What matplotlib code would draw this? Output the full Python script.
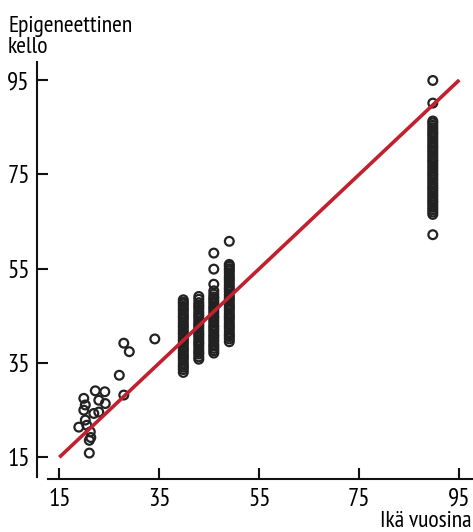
import matplotlib
matplotlib.use("Agg")
import matplotlib.pyplot as plt

plt.rcParams["font.family"] = ["PT Sans Narrow", "DejaVu Sans"]

# nuoret (hajanaiset pisteet)
young_age = [22.2, 24.1, 19.9, 22.9, 24.2, 20.2, 19.9, 21.9, 22.9, 20.2, 18.9,
             20.5, 21.2, 21.0, 21.3, 21.0, 27.9, 27.0, 27.9, 29.0, 34.1]
young_clock = [29.1, 28.9, 27.5, 27.1, 26.4, 26.1, 25.0, 24.3, 24.6, 22.9, 21.4,
               21.8, 20.4, 18.6, 19.2, 15.9, 28.2, 32.4, 39.2, 37.4, 40.1]

# keski-ikäiset, neljä ikäryhmää
age_40 = 39.8
clock_40 = [33.0, 33.6, 34.1, 34.5, 35.0, 35.6, 36.1, 36.5, 37.0, 37.6, 38.0,
            38.5, 39.1, 39.6, 40.0, 40.5, 41.1, 41.5, 42.0, 42.6, 43.0, 43.5,
            44.1, 44.6, 45.0, 45.5, 46.1, 46.5, 47.0, 47.5, 47.9, 48.4]
age_43 = 42.9
clock_43 = [35.8, 36.3, 36.9, 37.3, 37.8, 38.4, 38.9, 39.3, 39.8, 40.4, 40.9,
            41.3, 41.8, 42.4, 42.9, 43.3, 43.8, 44.4, 44.9, 45.3, 45.8, 46.4,
            46.9, 47.3, 47.8, 48.5, 49.1]
age_46 = 45.9
clock_46 = [37.1, 37.6, 38.1, 38.6, 39.0, 39.6, 40.1, 40.6, 41.0, 41.6, 42.1,
            42.6, 43.0, 43.6, 44.1, 44.6, 45.0, 45.6, 46.1, 46.6, 47.0, 47.6,
            48.1, 48.6, 49.0, 49.6, 50.3, 51.7, 54.9, 58.3]
age_49 = 49.0
clock_49 = [39.5, 40.1, 40.6, 41.0, 41.5, 42.1, 42.6, 43.0, 43.5, 44.1, 44.6,
            45.0, 45.5, 46.1, 46.6, 47.0, 47.5, 48.1, 48.6, 49.0, 49.5, 50.1,
            50.6, 51.0, 51.5, 52.1, 52.6, 53.0, 53.5, 54.1, 54.6, 55.0, 55.5,
            55.9, 60.8]

# vanhimmat
age_90 = 89.7
clock_90 = [62.2, 66.5, 67.0, 67.5, 68.0, 68.5, 69.0, 69.4, 69.9, 70.4, 70.9,
            71.4, 71.9, 72.3, 72.8, 73.3, 73.8, 74.3, 74.8, 75.2, 75.7, 76.2,
            76.7, 77.2, 77.7, 78.1, 78.6, 79.1, 79.6, 80.1, 80.6, 81.0, 81.5,
            82.0, 82.5, 83.0, 83.5, 83.9, 84.4, 84.9, 85.4, 85.9, 86.3, 90.1,
            94.9]

line_x = [15, 95]
line_y = [15, 95]
ticks = [15, 35, 55, 75, 95]

W, H = 473, 532
fig = plt.figure(figsize=(W / 100, H / 100), dpi=100)
ax = fig.add_axes([47.7 / W, (H - 476.7) / H, (W - 47.7) / W, (476.7 - 61.7) / H])

xs = young_age + [age_40] * len(clock_40) + [age_43] * len(clock_43) \
    + [age_46] * len(clock_46) + [age_49] * len(clock_49) + [age_90] * len(clock_90)
ys = young_clock + clock_40 + clock_43 + clock_46 + clock_49 + clock_90

ax.scatter(xs, ys, s=40, facecolors="none", edgecolors="#222222",
           linewidths=1.6, zorder=2, clip_on=False)
ax.plot(line_x, line_y, color="#c1202e", lw=2.6, solid_capstyle="butt", zorder=3)

ax.set_xlim(12.68, 97.74)
ax.set_ylim(10.89, 98.88)
ax.set_xticks(ticks)
ax.set_yticks(ticks)

for side in ["top", "right"]:
    ax.spines[side].set_visible(False)
ax.spines["left"].set_position(("outward", 7.9))
ax.spines["bottom"].set_position(("outward", 1.9))
for side in ["left", "bottom"]:
    ax.spines[side].set_linewidth(1.5)
    ax.spines[side].set_color("#111111")

ax.tick_params(direction="in", length=8, width=1.5, color="#111111",
               labelsize=18, pad=5)
ax.tick_params(axis="x", pad=6)

fig.text(8 / W, 1 - 53 / H, "Epigeneettinen\nkello", fontsize=17,
         ha="left", va="baseline", linespacing=1.0)
fig.text(471 / W, 1 - 527 / H, "Ikä vuosina", fontsize=17,
         ha="right", va="baseline")

fig.savefig("out.png", dpi=100)
